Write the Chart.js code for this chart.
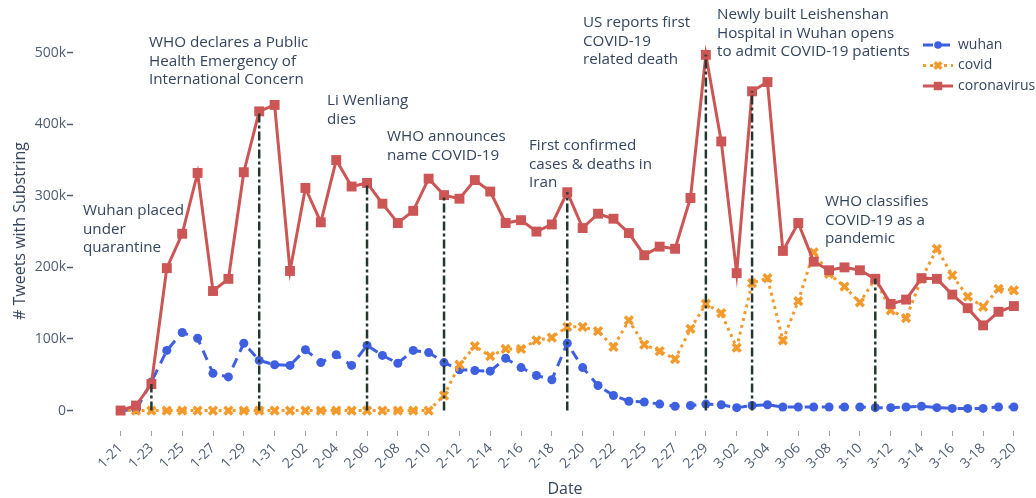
<!DOCTYPE html>
<html>
<head>
<meta charset="utf-8">
<script src="https://cdn.jsdelivr.net/npm/chart.js@4.4.1/dist/chart.umd.min.js"></script>
<style>
  html, body { margin: 0; padding: 0; background: #ffffff; }
  #wrap { width: 1036px; height: 498px; }
</style>
</head>
<body>
<div id="wrap"><canvas id="tweetChart" width="1036" height="498"></canvas></div>
<script>
// data (2020, one day in late Feb is missing)
const dates = [
  '1-21','1-22','1-23','1-24','1-25','1-26','1-27','1-28','1-29','1-30','1-31',
  '2-01','2-02','2-03','2-04','2-05','2-06','2-07','2-08','2-09','2-10','2-11',
  '2-12','2-13','2-14','2-15','2-16','2-17','2-18','2-19','2-20','2-21','2-22',
  '2-24','2-25','2-26','2-27','2-28','2-29',
  '3-01','3-02','3-03','3-04','3-05','3-06','3-07','3-08','3-09','3-10','3-11',
  '3-12','3-13','3-14','3-15','3-16','3-17','3-18','3-19','3-20'
];

const wuhan = [
  0, 1000, 40000, 84000, 109000, 101000, 52000, 47000, 94000, 70000,
  64000, 63000, 85000, 67000, 78000, 63000, 91000, 77000, 66000, 84000,
  81000, 67000, 57000, 56000, 55000, 73000, 60000, 49000, 43000, 94000,
  60000, 35000, 21000, 13000, 12000, 9000, 6000, 7000, 9000, 8000,
  4000, 7000, 8000, 5000, 5000, 5000, 5000, 5000, 5000, 4000,
  4000, 5000, 6000, 4000, 3000, 3000, 3000, 5000, 5000
];

const covid = [
  0, 0, 0, 0, 0, 0, 0, 0, 0, 0,
  0, 0, 0, 0, 0, 0, 0, 0, 0, 0,
  0, 21000, 64000, 90000, 76000, 86000, 86000, 98000, 102000, 117000,
  117000, 111000, 89000, 126000, 92000, 83000, 72000, 114000, 149000, 136000,
  88000, 178000, 185000, 98000, 153000, 221000, 191000, 173000, 151000, 184000,
  140000, 129000, 184000, 226000, 189000, 159000, 145000, 170000, 168000
];

const coronavirus = [
  0, 7000, 37000, 199000, 247000, 332000, 167000, 184000, 333000, 418000,
  427000, 195000, 311000, 263000, 350000, 313000, 318000, 289000, 262000, 279000,
  324000, 301000, 296000, 322000, 306000, 262000, 266000, 250000, 260000, 305000,
  255000, 275000, 268000, 248000, 217000, 229000, 226000, 297000, 497000, 376000,
  192000, 446000, 459000, 223000, 262000, 208000, 196000, 200000, 196000, 184000,
  149000, 155000, 185000, 184000, 162000, 143000, 119000, 138000, 146000
];

const yTicks = [0, 100000, 200000, 300000, 400000, 500000];

const eventDates = ['1-23', '1-30', '2-06', '2-11', '2-19', '2-29', '3-03', '3-11'];
const eventLabels = [
  ['Wuhan placed', 'under', 'quarantine'],
  ['WHO declares a Public', 'Health Emergency of', 'International Concern'],
  ['Li Wenliang', 'dies'],
  ['WHO announces', 'name COVID-19'],
  ['First confirmed', 'cases & deaths in', 'Iran'],
  ['US reports first', 'COVID-19', 'related death'],
  ['Newly built Leishenshan', 'Hospital in Wuhan opens', 'to admit COVID-19 patients'],
  ['WHO classifies', 'COVID-19 as a', 'pandemic']
];

// where each event label sits (left edge, first line centre), in pixels
const labelSpots = [
  [83, 211], [149, 43], [327, 101], [387, 137],
  [529, 146], [583, 23], [717, 15], [825, 202]
];

const FONT = '"Open Sans", "Noto Sans", sans-serif';
const TEXT = '#34465f';
const TICK_TEXT = '#4f5d72';

const series = [
  { label: 'wuhan', values: wuhan, color: '#3d5fe0', dash: [10, 7], style: 'circle', radius: 4.5, pw: 0 },
  { label: 'covid', values: covid, color: '#f39a2d', dash: [3, 4], style: 'crossRot', radius: 5.5, pw: 3.5 },
  { label: 'coronavirus', values: coronavirus, color: '#cc5555', dash: [], style: 'rect', radius: 7, pw: 0 }
];

function toPoints(values) {
  return values.map((v, i) => ({ x: i, y: v }));
}

function buildDatasets() {
  const sets = [];
  // event markers first so they draw on top of the series
  eventDates.forEach((d) => {
    const i = dates.indexOf(d);
    sets.push({
      label: '_event_' + d,
      data: [{ x: i, y: 0 }, { x: i, y: coronavirus[i] }],
      borderColor: '#24382e',
      borderWidth: 2.5,
      borderDash: [9, 3, 3, 3],
      pointRadius: 0,
      fill: false
    });
  });
  // plotly draws the last trace on top, chart.js the first one
  series.slice().reverse().forEach((s) => {
    sets.push({
      label: s.label,
      data: toPoints(s.values),
      borderColor: s.color,
      backgroundColor: s.color,
      borderWidth: 3,
      borderDash: s.dash,
      pointStyle: s.style,
      pointRadius: s.radius,
      pointBackgroundColor: s.color,
      pointBorderColor: s.color,
      pointBorderWidth: s.pw,
      tension: 0,
      fill: false
    });
  });
  return sets;
}

const textPlugin = {
  id: 'textPlugin',
  afterDraw(chart) {
    const ctx = chart.ctx;
    const area = chart.chartArea;
    ctx.save();

    // event labels
    ctx.fillStyle = TEXT;
    ctx.font = '15.2px ' + FONT;
    ctx.textAlign = 'left';
    ctx.textBaseline = 'middle';
    eventLabels.forEach((lines, k) => {
      const [lx, ly] = labelSpots[k];
      lines.forEach((t, j) => ctx.fillText(t, lx, ly + j * 18.5));
    });

    // axis titles
    ctx.font = '16px ' + FONT;
    ctx.textAlign = 'center';
    ctx.fillText('Date', (area.left + area.right) / 2 + 15, 489);
    ctx.save();
    ctx.translate(20, 231);
    ctx.rotate(-Math.PI / 2);
    ctx.fillText('# Tweets with Substring', 0, 0);
    ctx.restore();

    // legend
    ctx.font = '14px ' + FONT;
    ctx.textAlign = 'left';
    series.forEach((s, k) => {
      const y = 45 + k * 20.5;
      ctx.strokeStyle = s.color;
      ctx.fillStyle = s.color;
      ctx.lineWidth = 3;
      ctx.setLineDash(s.dash);
      ctx.beginPath();
      ctx.moveTo(923, y);
      ctx.lineTo(953, y);
      ctx.stroke();
      ctx.setLineDash([]);
      ctx.lineWidth = s.pw;
      Chart.helpers.drawPoint(ctx, {
        pointStyle: s.style, rotation: 0, radius: s.radius * 0.85, borderWidth: s.pw
      }, 938, y);
      ctx.fillStyle = TEXT;
      ctx.fillText(s.label, 958, y);
    });

    ctx.restore();
  }
};

Chart.defaults.font.family = FONT;

new Chart(document.getElementById('tweetChart').getContext('2d'), {
  type: 'line',
  data: { datasets: buildDatasets() },
  options: {
    responsive: false,
    devicePixelRatio: 1,
    animation: false,
    layout: { padding: { top: 30, right: 6, left: 0, bottom: 0 } },
    plugins: {
      legend: { display: false },
      tooltip: { enabled: false }
    },
    scales: {
      x: {
        type: 'linear',
        min: -3.09,
        max: 58.85,
        afterFit: (scale) => { scale.height = 67; },
        afterBuildTicks: (scale) => {
          scale.ticks = dates.map((d, i) => ({ value: i })).filter((t) => t.value % 2 === 0);
        },
        ticks: {
          autoSkip: false,
          minRotation: 45,
          maxRotation: 45,
          padding: 4,
          color: TICK_TEXT,
          font: { size: 14 },
          callback: (v) => dates[v]
        },
        grid: { drawOnChartArea: false, drawTicks: true, tickLength: 5, tickColor: '#9aa3ae', tickWidth: 1 },
        border: { display: false }
      },
      y: {
        type: 'linear',
        min: -28600,
        max: 531700,
        afterFit: (scale) => { scale.width = 73; },
        afterBuildTicks: (scale) => {
          scale.ticks = yTicks.map((v) => ({ value: v }));
        },
        ticks: {
          padding: 1,
          color: TICK_TEXT,
          font: { size: 14 },
          callback: (v) => (v === 0 ? '0' : (v / 1000) + 'k')
        },
        grid: { drawOnChartArea: false, drawTicks: true, tickLength: 6, tickColor: TICK_TEXT, tickWidth: 1.5 },
        border: { display: false }
      }
    }
  },
  plugins: [textPlugin]
});
</script>
</body>
</html>
